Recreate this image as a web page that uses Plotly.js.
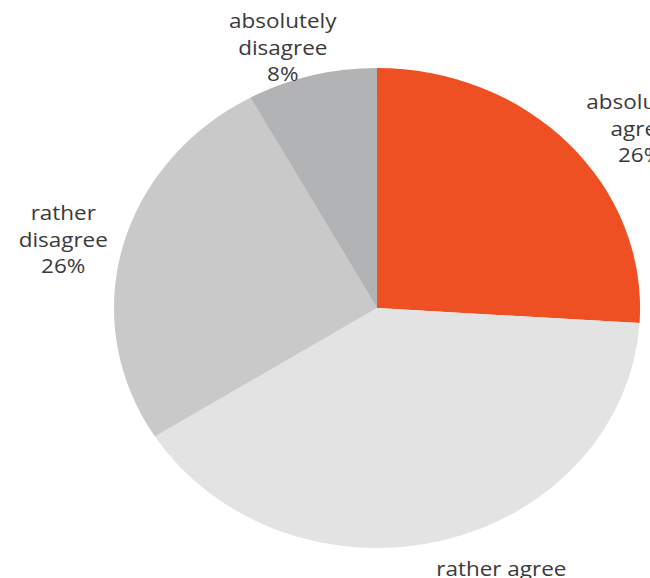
<!DOCTYPE html>
<html>
<head>
<meta charset="utf-8">
<script src="https://cdn.plot.ly/plotly-3.0.1.min.js"></script>
<style>
html, body { margin: 0; padding: 0; width: 650px; height: 578px; overflow: hidden; background: #fff; }
#chart { width: 650px; height: 578px; transform: scaleX(1.096); transform-origin: 0 0; }
</style>
</head>
<body>
<div id="chart"></div>
<script>
// Data
const categories = ["absolutely agree", "rather agree", "rather disagree", "absolutely disagree"];
const labelLines = ["absolutely<br>agree", "rather agree", "rather<br>disagree", "absolutely<br>disagree"];
const values = [26, 40, 26, 8];
const colors = ["#EF5023", "#E3E3E3", "#C9C9C9", "#B2B3B5"];

// Label placement (unscaled pixels within the 650x578 div)
const W = 650, H = 578;
const labelPos = [
  {x: 584, y: 127, yanchor: "middle"},
  {x: 457, y: 552, yanchor: "top"},
  {x: 57,  y: 238, yanchor: "middle"},
  {x: 258, y: 46,  yanchor: "middle"}
];

const cx = 344, cy = 308, r = 240;

const trace = {
  type: "pie",
  labels: categories,
  values: values,
  sort: false,
  direction: "clockwise",
  rotation: 0,
  marker: {colors: colors, line: {width: 0}},
  textinfo: "none",
  hoverinfo: "none",
  showlegend: false,
  domain: {x: [(cx - r) / W, (cx + r) / W], y: [(H - cy - r) / H, (H - cy + r) / H]}
};

const annotations = categories.map((c, i) => ({
  xref: "paper", yref: "paper",
  x: labelPos[i].x / W,
  y: 1 - labelPos[i].y / H,
  xanchor: "center",
  yanchor: labelPos[i].yanchor,
  text: labelLines[i] + "<br>" + values[i] + "%",
  showarrow: false,
  align: "center",
  font: {family: "Open Sans", size: 20.5, color: "#3a3a3a"}
}));

const layout = {
  width: W, height: H,
  margin: {l: 0, r: 0, t: 0, b: 0},
  paper_bgcolor: "#ffffff",
  plot_bgcolor: "#ffffff",
  annotations: annotations
};

Plotly.newPlot("chart", [trace], layout, {displayModeBar: false, staticPlot: true});
</script>
</body>
</html>
